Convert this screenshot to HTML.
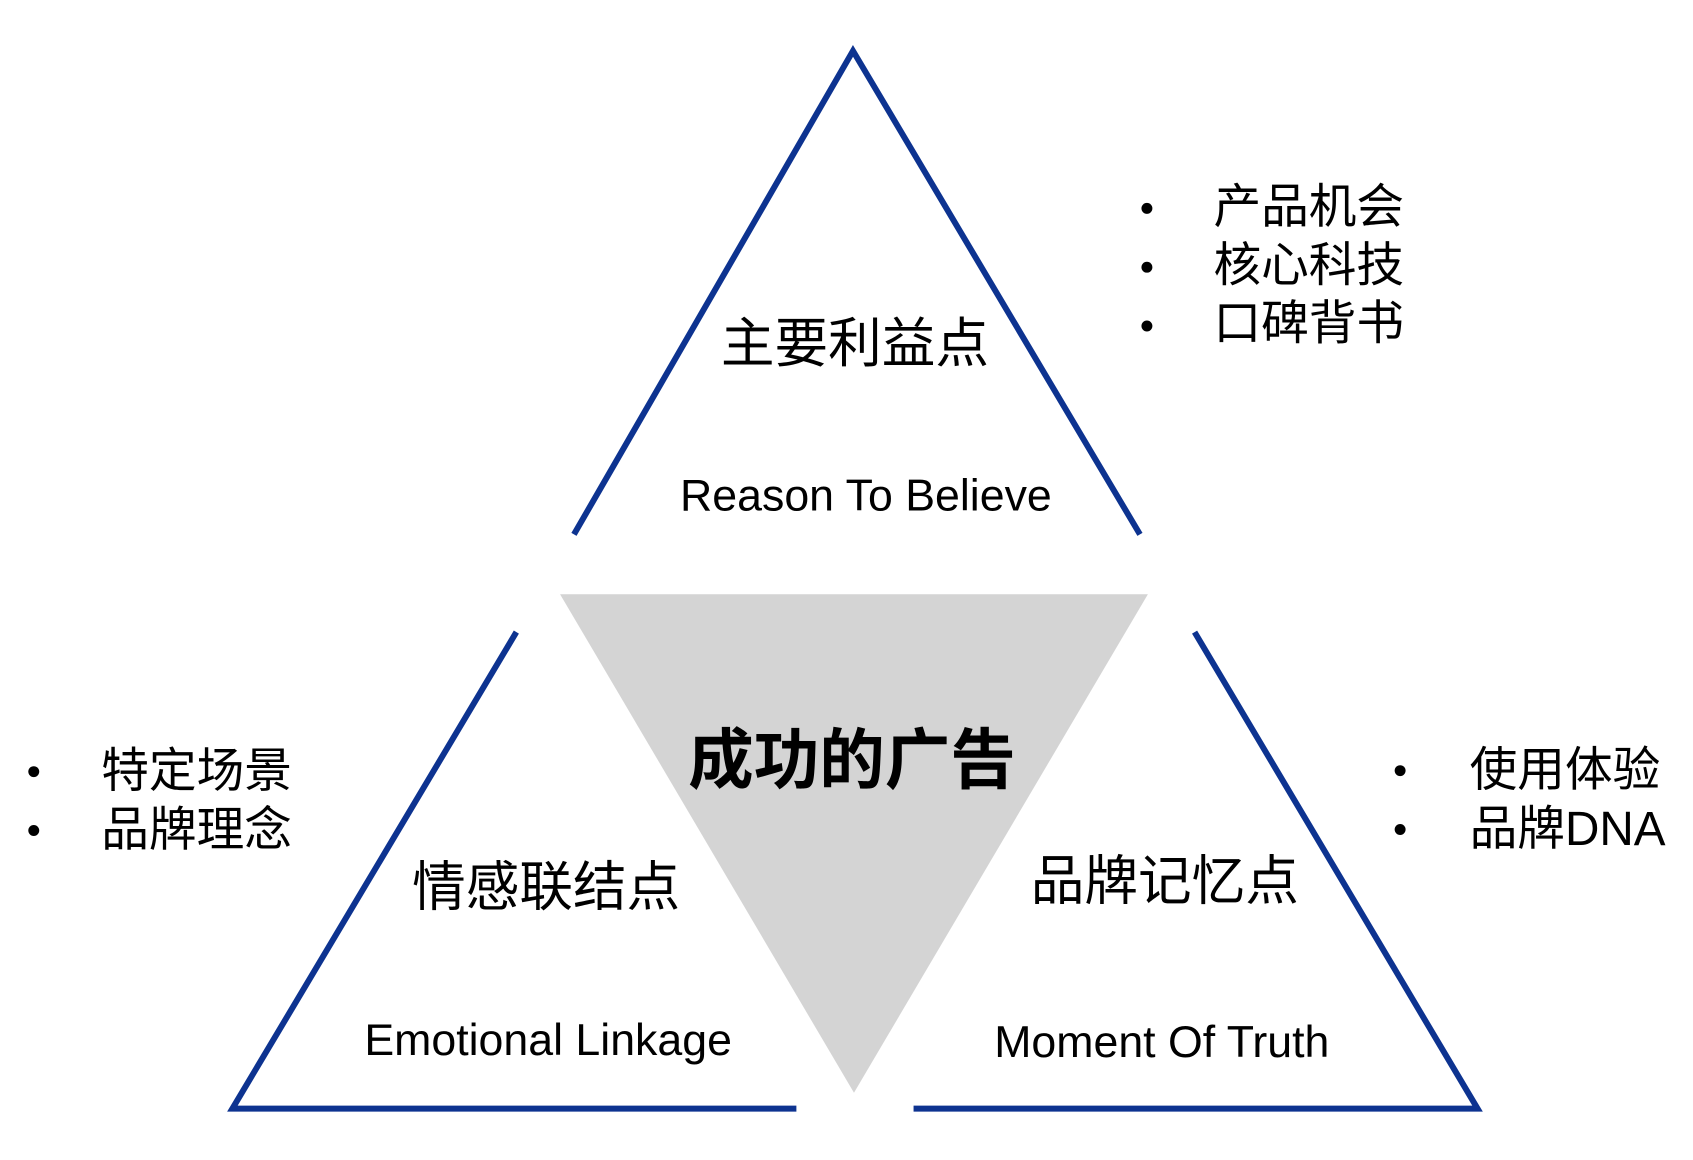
<!DOCTYPE html>
<html><head><meta charset="utf-8"><style>
html,body{margin:0;padding:0;background:#fff;}
svg text{font-family:"Liberation Sans","Noto Sans CJK SC",sans-serif;fill:#000;}
</style></head><body>
<svg width="1693" height="1155" viewBox="0 0 1693 1155" xmlns="http://www.w3.org/2000/svg">
<g transform="scale(0.993,0.997)">
<polygon points="564,596 1156,596 860,1096" fill="#d4d4d4"/>
<g fill="none" stroke="#0d3390" stroke-width="6">
<polyline points="578,536 859,51 1148,536"/>
<polyline points="520,634 234,1112 802,1112"/>
<polyline points="1203,634 1488,1112 920,1112"/>
</g>
<g font-size="48" dominant-baseline="central">
<text x="861" y="345" text-anchor="middle" font-size="54">主要利益点</text>
<text x="872" y="497" text-anchor="middle" font-size="45">Reason To Believe</text>
<text x="858" y="763" text-anchor="middle" font-size="66" font-weight="bold">成功的广告</text>
<text x="550" y="890" text-anchor="middle" font-size="54">情感联结点</text>
<text x="552" y="1043" text-anchor="middle" font-size="45">Emotional Linkage</text>
<text x="1173" y="884" text-anchor="middle" font-size="54">品牌记忆点</text>
<text x="1170" y="1045" text-anchor="middle" font-size="45">Moment Of Truth</text>
<text x="1222" y="208">产品机会</text>
<text x="1222" y="267">核心科技</text>
<text x="1222" y="325">口碑背书</text>
<text x="102" y="774">特定场景</text>
<text x="102" y="833">品牌理念</text>
<text x="1480" y="773">使用体验</text>
<text x="1480" y="832">品牌DNA</text>
</g>
<g fill="#000">
<circle cx="1155" cy="209" r="5.5"/><circle cx="1155" cy="268" r="5.5"/><circle cx="1155" cy="327" r="5.5"/>
<circle cx="34" cy="774" r="5.5"/><circle cx="34" cy="833" r="5.5"/>
<circle cx="1410" cy="773" r="5.5"/><circle cx="1410" cy="832" r="5.5"/>
</g>
</g>
</svg>
</body></html>
